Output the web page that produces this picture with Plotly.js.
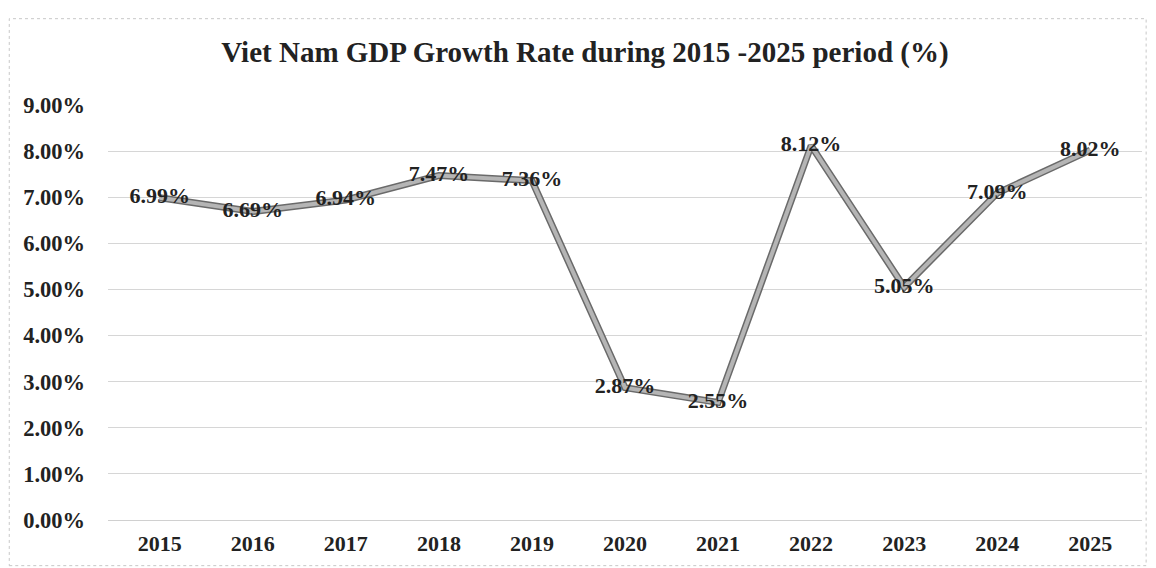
<!DOCTYPE html>
<html>
<head>
<meta charset="utf-8">
<script src="https://cdn.plot.ly/plotly-3.0.1.min.js"></script>
<style>html,body{margin:0;padding:0;background:#fff;}#chart{width:1156px;height:568px;}</style>
</head>
<body>
<div id="chart"></div>
<script>
const years = ['2015','2016','2017','2018','2019','2020','2021','2022','2023','2024','2025'];
const growth = [6.99, 6.69, 6.94, 7.47, 7.36, 2.87, 2.55, 8.12, 5.05, 7.09, 8.02];
const yTicks = [0,1,2,3,4,5,6,7,8,9];

const serif = 'Liberation Serif, Times New Roman, serif';
const traces = [
  {x: years, y: growth, type: 'scatter', mode: 'lines', line: {color: '#6a6a6a', width: 7}, hoverinfo: 'skip', showlegend: false},
  {x: years, y: growth, type: 'scatter', mode: 'lines+text', line: {color: '#b5b5b5', width: 4},
   text: growth.map(v => v.toFixed(2) + '%'), textposition: 'middle center',
   textfont: {family: serif, size: 22, color: '#222', weight: 'bold'}, showlegend: false}
];
const layout = {
  width: 1156, height: 568,
  margin: {l: 108, r: 14, t: 105, b: 48},
  paper_bgcolor: '#fff', plot_bgcolor: '#fff',
  title: {text: 'Viet Nam GDP Growth Rate during 2015 -2025 period (%)', xref: 'container', x: 0.506, xanchor: 'center', yref: 'container', y: 0.908, yanchor: 'middle',
    font: {family: serif, size: 29, color: '#222', weight: 'bold'}},
  xaxis: {type: 'category', showgrid: false, zeroline: false, showline: false, ticks: '',
    tickfont: {family: serif, size: 22, color: '#222', weight: 'bold'}, ticklabelstandoff: 8},
  yaxis: {range: [0, 9], tickvals: yTicks, ticktext: yTicks.map(v => v.toFixed(2) + '%'),
    showgrid: true, gridcolor: '#d6d6d6', gridwidth: 1, zeroline: true, zerolinecolor: '#d0d0d0', zerolinewidth: 1,
    showline: false, ticks: '', tickfont: {family: serif, size: 22.5, color: '#222', weight: 'bold'}, ticklabelstandoff: 22},
  shapes: [
    {type: 'rect', xref: 'paper', yref: 'paper', x0: -0.0955, x1: 1.004, y0: -0.11, y1: 1.208,
     line: {color: '#c8c8c8', width: 1, dash: 'dot'}, layer: 'below'}
  ]
};
Plotly.newPlot('chart', traces, layout, {displayModeBar: false, staticPlot: true});
</script>
</body>
</html>
